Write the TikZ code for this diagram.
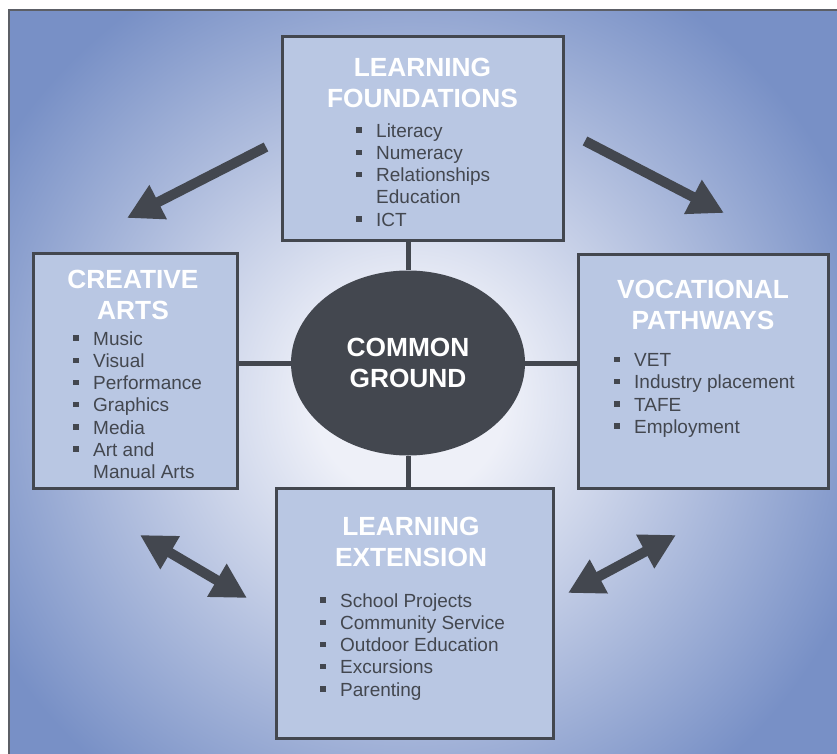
\documentclass[tikz,border=0pt]{standalone}
\usepackage{fontspec}
\setmainfont{Liberation Sans}
\usetikzlibrary{shapes.geometric, arrows.meta}
\definecolor{bgblue}{HTML}{7890C6}
\definecolor{glowin}{HTML}{EEF0F8}
\definecolor{boxfill}{HTML}{B9C7E3}
\definecolor{ink}{HTML}{43474F}
\definecolor{frame}{HTML}{5C5F66}
\pgfdeclareradialshading{glow}{\pgfpoint{0bp}{0bp}}{color(0bp)=(glowin); color(5bp)=(glowin); color(25bp)=(bgblue); color(50bp)=(bgblue)}
\newcommand{\bul}{\makebox[20pt][l]{\rule[4.5pt]{5.5pt}{5.5pt}}}

\begin{document}
\begin{tikzpicture}[x=1pt, y=-1pt,
  box/.style={draw=ink, line width=3pt, fill=boxfill, inner sep=0pt},
  title/.style={text=white, font=\bfseries\fontsize{26.3}{30.5}\selectfont, align=center, anchor=north, inner sep=0pt},
  items/.style={text=ink, font=\fontsize{19}{22.2}\selectfont, align=left, anchor=north west, inner sep=0pt},
  link/.style={draw=ink, line width=5pt},
  fat/.style={draw=ink, line width=10pt, -{Triangle[width=36pt,length=35pt]}},
  fatboth/.style={draw=ink, line width=10pt, {Triangle[width=36pt,length=35pt]}-{Triangle[width=36pt,length=35pt]}}]
\clip (0,0) rectangle (837,754);
% background
\fill[bgblue] (9,10) rectangle (850,770);
\begin{scope}
\clip (9,10) rectangle (850,770);
\shade[shading=glow] (410,400) circle (480pt);
\end{scope}
\draw[frame, line width=2.5pt] (9,10) rectangle (850,770);

% boxes
\node[box, minimum width=281pt, minimum height=203pt] (lf) at (422.5,138.5) {};
\node[box, minimum width=204pt, minimum height=235pt] (ca) at (135,370.5) {};
\node[box, minimum width=250pt, minimum height=234pt] (vp) at (703,371) {};
\node[box, minimum width=277pt, minimum height=250pt] (le) at (414.5,613) {};
\node[ellipse, fill=ink, minimum width=234pt, minimum height=185pt, inner sep=0pt,
  text=white, font=\bfseries\fontsize{26.3}{31}\selectfont, align=center] (cg) at (408,363) {COMMON\\GROUND};

% links to the hub
\draw[link] (cg.north) -- (cg.north |- lf.south);
\draw[link] (cg.south) -- (cg.south |- le.north);
\draw[link] (cg.west) -- (cg.west -| ca.east);
\draw[link] (cg.east) -- (cg.east -| vp.west);

% titles
\node[title] (lftitle) at (422.5,58) {LEARNING\\FOUNDATIONS};
\node[title] (catitle) at (133,270) {CREATIVE\\ARTS};
\node[title] (vptitle) at (703,280) {VOCATIONAL\\PATHWAYS};
\node[title] (letitle) at (411,517) {LEARNING\\EXTENSION};

% lists
\node[items] (lflist) at (356,123.4) {\bul Literacy\\ \bul Numeracy\\ \bul Relationships\\ \hspace*{20pt}Education\\ \bul ICT};
\node[items] (calist) at (73,331.4) {\bul Music\\ \bul Visual\\ \bul Performance\\ \bul Graphics\\ \bul Media\\ \bul Art and\\ \hspace*{20pt}Manual Arts};
\node[items] (vplist) at (614,353.4) {\bul VET\\ \bul Industry placement\\ \bul TAFE\\ \bul Employment};
\node[items] (lelist) at (320,593.4) {\bul School Projects\\ \bul Community Service\\ \bul Outdoor Education\\ \bul Excursions\\ \bul Parenting};

% arrows
\coordinate (tl0) at (266,147);
\coordinate (tl1) at (127,218);
\coordinate (tr0) at (585,141);
\coordinate (tr1) at (724,213);
\coordinate (bl0) at (140,535);
\coordinate (bl1) at (247,598);
\coordinate (br0) at (568,593);
\coordinate (br1) at (676,535);
\draw[fat] (tl0) -- (tl1);
\draw[fat] (tr0) -- (tr1);
\draw[fatboth] (bl0) -- (bl1);
\draw[fatboth] (br0) -- (br1);
\end{tikzpicture}
\end{document}
